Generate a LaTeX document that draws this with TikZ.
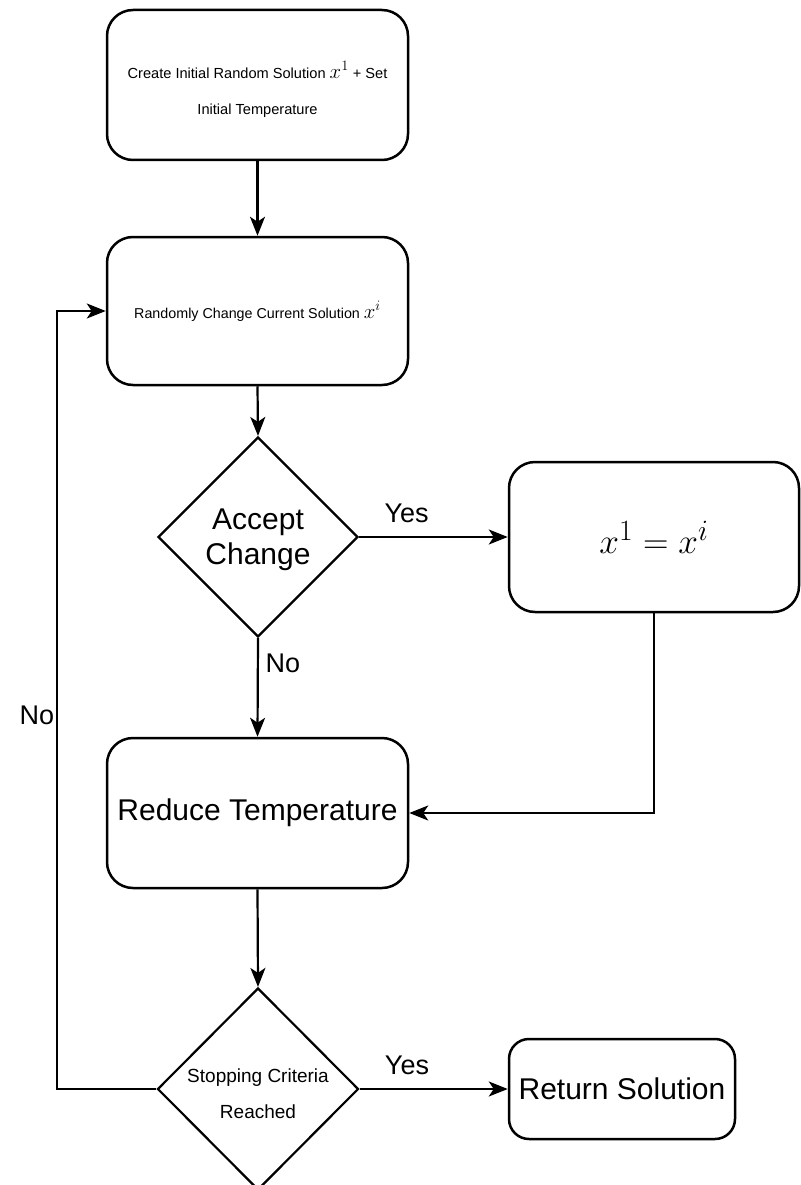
\documentclass[tikz,border=0pt]{standalone}
\usepackage{graphicx}
\usepackage{fontspec}
\setmainfont{Liberation Sans}
\usetikzlibrary{shapes.geometric,arrows.meta}
% centred block of lines, its middle lowered by #1 below the node centre
\newsavebox{\linesbox}
\newcommand{\lowerlines}[2]{%
  \sbox{\linesbox}{\begin{tabular}{@{}c@{}}#2\end{tabular}}%
  \raisebox{\dimexpr(\dp\linesbox-\ht\linesbox)/2-#1\relax}[0pt][0pt]{\usebox{\linesbox}}}
\begin{document}
\begin{tikzpicture}[x=1pt,y=-1pt,
  proc/.style={draw,line width=2.5pt,rounded corners=26pt,align=center,inner sep=0pt,
    minimum width=301pt,minimum height=150pt},
  decision/.style={draw,diamond,line width=2.2pt,align=center,inner sep=0pt,aspect=1,
    minimum width=200pt,minimum height=200pt},
  arr/.style={line width=2.2pt,-{Stealth[length=19pt,width=15pt,inset=5pt]}},
  elabel/.style={font=\fontsize{27}{32}\selectfont,inner sep=0pt}
]
\useasboundingbox (0,0) rectangle (800,1185);

% process boxes
\node[proc,font=\fontsize{14.6}{36}\selectfont] (init) at (257.5,85)
  {\lowerlines{4pt}{Create Initial Random Solution {\fontsize{21}{21}\selectfont$x^1$} + Set\\Initial Temperature}};
\node[proc,minimum height=148pt,font=\fontsize{14.3}{17}\selectfont] (change) at (257.5,311)
  {Randomly Change Current Solution {\fontsize{20}{20}\selectfont$x^i$}};
\node[decision,font=\fontsize{30}{35}\selectfont] (accept) at (258,537)
  {\lowerlines{3pt}{Accept\\Change}};
\node[proc,minimum width=290pt,font=\fontsize{24.88}{30}\selectfont] (upd) at (654,537)
  {\scalebox{1.42}{$x^1=x^i$}};
\node[proc,font=\fontsize{30}{36}\selectfont] (reduce) at (257.5,813)
  {Reduce Temperature};
\node[decision,minimum width=201pt,minimum height=202pt,font=\fontsize{19}{35.5}\selectfont] (stop) at (258,1089)
  {\lowerlines{4.5pt}{Stopping Criteria\\Reached}};
\node[proc,rounded corners=20pt,minimum width=226pt,minimum height=100pt,font=\fontsize{30}{36}\selectfont] (ret) at (622,1089)
  {Return Solution};

\coordinate (loop) at (57,1089);

% connectors
\draw[arr] (init.south) -- (change.north);
\draw[arr] (change.south) -- (accept.north);
\draw[arr] (accept.east) -- node[elabel,pos=0.32,yshift=24pt] {Yes} (upd.west);
\draw[arr] (accept.south) -- node[elabel,pos=0.26,xshift=25pt] {No} (reduce.north);
\draw[arr] (upd.south) |- (reduce.east);
\draw[arr] (reduce.south) -- (stop.north);
\draw[arr] (stop.east) -- node[elabel,pos=0.32,yshift=24pt] {Yes} (ret.west);
\draw[arr] (stop.west) -- (loop) |- node[elabel,pos=0.24,xshift=-20pt] {No} (change.west);
\end{tikzpicture}
\end{document}
